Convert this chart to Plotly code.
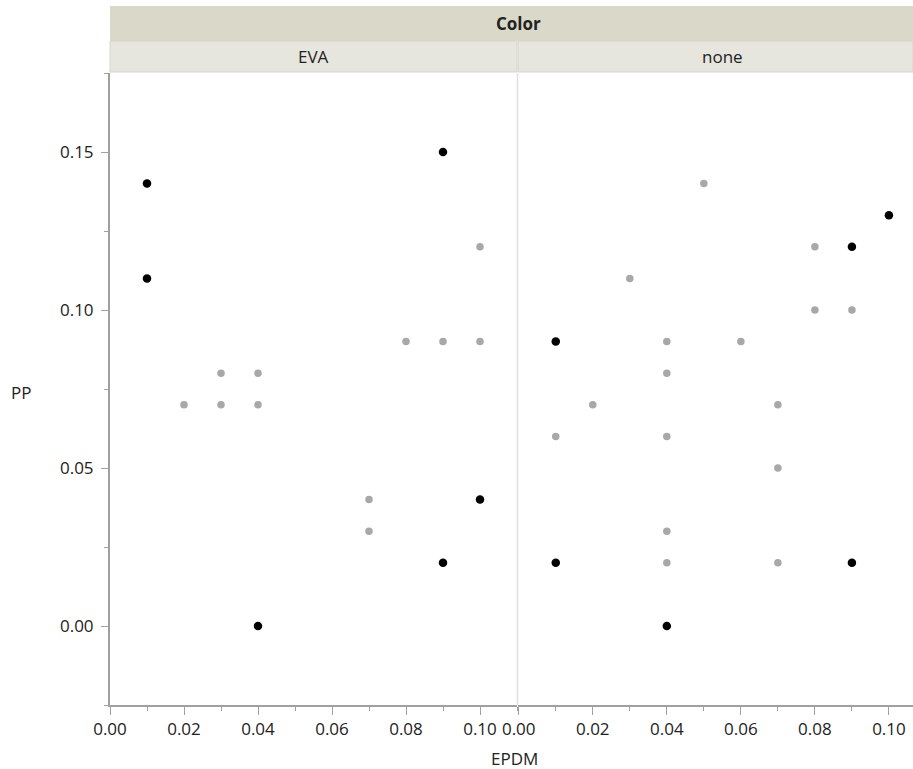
import plotly.graph_objects as go

# ---- data ----
panels = ["EVA", "none"]

eva_black_x = [0.01, 0.01, 0.09, 0.10, 0.09, 0.04]
eva_black_y = [0.14, 0.11, 0.15, 0.04, 0.02, 0.00]
eva_gray_x = [0.10, 0.08, 0.09, 0.10, 0.03, 0.04, 0.02, 0.03, 0.04, 0.07, 0.07]
eva_gray_y = [0.12, 0.09, 0.09, 0.09, 0.08, 0.08, 0.07, 0.07, 0.07, 0.04, 0.03]

none_black_x = [0.10, 0.09, 0.01, 0.01, 0.09, 0.04]
none_black_y = [0.13, 0.12, 0.09, 0.02, 0.02, 0.00]
none_gray_x = [0.05, 0.08, 0.03, 0.08, 0.09, 0.04, 0.06, 0.04, 0.02, 0.07, 0.01, 0.04, 0.07, 0.04, 0.04, 0.07]
none_gray_y = [0.14, 0.12, 0.11, 0.10, 0.10, 0.09, 0.09, 0.08, 0.07, 0.07, 0.06, 0.06, 0.05, 0.03, 0.02, 0.02]

x_ticks = [0.00, 0.02, 0.04, 0.06, 0.08, 0.10]
y_ticks = [0.00, 0.05, 0.10, 0.15]

# ---- style ----
W, H = 913, 769
L, R, T, B = 110, 0, 73, 64
plot_w = W - L - R
plot_h = H - T - B
FONT = "Open Sans"
TXT = "#222222"
AX = "#a0a0a0"
BLACK = "#000000"
GRAY = "#a8a8a8"
FS = 17

fig = go.Figure()

def add(x, y, color, size, xa):
    fig.add_trace(go.Scatter(x=x, y=y, mode="markers", xaxis=xa, yaxis="y",
                             marker=dict(color=color, size=size, line=dict(width=0)),
                             showlegend=False, hoverinfo="x+y"))

add(eva_gray_x, eva_gray_y, GRAY, 7.5, "x")
add(eva_black_x, eva_black_y, BLACK, 8.5, "x")
add(none_gray_x, none_gray_y, GRAY, 7.5, "x2")
add(none_black_x, none_black_y, BLACK, 8.5, "x2")

split = (517 - L) / plot_w
split2 = (518 - L) / plot_w

xcommon = dict(
    tickmode="array", tickvals=x_ticks, ticktext=[f"{v:.2f}" for v in x_ticks],
    ticks="outside", ticklen=8, tickwidth=1, tickcolor=AX,
    showline=True, linecolor=AX, linewidth=2,
    showgrid=False, zeroline=False,
    tickfont=dict(family=FONT, size=FS, color=TXT),
    minor=dict(dtick=0.01, tick0=0, ticks="outside", ticklen=4, tickcolor=AX, showgrid=False),
)

fig.update_layout(
    width=W, height=H,
    margin=dict(l=L, r=R, t=T, b=B),
    paper_bgcolor="white", plot_bgcolor="white",
    xaxis=dict(domain=[0, split], range=[0, 0.11], anchor="y", **xcommon),
    xaxis2=dict(domain=[split2, 1], range=[-0.0002, 0.1065], anchor="y", **xcommon),
    yaxis=dict(
        range=[-0.025, 0.175], tickmode="array", tickvals=y_ticks,
        ticktext=[f"{v:.2f}" for v in y_ticks],
        ticks="outside", ticklen=7, tickwidth=1, tickcolor=AX,
        showline=True, linecolor=AX, linewidth=2,
        showgrid=False, zeroline=False,
        ticklabelstandoff=4,
        tickfont=dict(family=FONT, size=FS, color=TXT),
        minor=dict(dtick=0.025, tick0=0, ticks="outside", ticklen=4, tickcolor=AX, showgrid=False),
    ),
    showlegend=False,
)

# header bands
y_top = 1 + (T - 6) / plot_h
y_mid = 1 + (T - 41) / plot_h
y_bot = 1 + (T - 72) / plot_h
fig.add_shape(type="rect", xref="paper", yref="paper", x0=0, x1=1, y0=y_mid, y1=y_top,
              fillcolor="#dad8c9", line=dict(width=0), layer="above")
fig.add_shape(type="rect", xref="paper", yref="paper", x0=0, x1=split, y0=y_bot, y1=y_mid,
              fillcolor="#e7e6de", line=dict(color="#d6d5cc", width=1), layer="above")
fig.add_shape(type="rect", xref="paper", yref="paper", x0=split2, x1=1, y0=y_bot, y1=y_mid,
              fillcolor="#e7e6de", line=dict(color="#d6d5cc", width=1), layer="above")
# divider between panels
fig.add_shape(type="line", xref="paper", yref="paper", x0=(split + split2) / 2, x1=(split + split2) / 2,
              y0=0, y1=1, line=dict(color="#e0e0e0", width=1.5), layer="below")

fig.add_annotation(text="<b>Color</b>", xref="paper", yref="paper", x=(518 - L) / plot_w, y=(y_top + y_mid) / 2,
                   showarrow=False, font=dict(family=FONT, size=FS, color=TXT),
                   xanchor="center", yanchor="middle")
fig.add_annotation(text=panels[0], xref="paper", yref="paper", x=split / 2, y=(y_mid + y_bot) / 2,
                   showarrow=False, font=dict(family=FONT, size=FS, color=TXT),
                   xanchor="center", yanchor="middle")
fig.add_annotation(text=panels[1], xref="paper", yref="paper", x=(722 - L) / plot_w, y=(y_mid + y_bot) / 2,
                   showarrow=False, font=dict(family=FONT, size=FS, color=TXT),
                   xanchor="center", yanchor="middle")

# axis titles
fig.add_annotation(text="EPDM", xref="paper", yref="paper", x=(514 - L) / plot_w,
                   y=-(758 - (T + plot_h)) / plot_h, showarrow=False,
                   font=dict(family=FONT, size=FS, color=TXT), xanchor="center", yanchor="middle")
fig.add_annotation(text="PP", xref="paper", yref="paper", x=-(L - 21) / plot_w,
                   y=(T + plot_h - 392) / plot_h, showarrow=False,
                   font=dict(family=FONT, size=FS, color=TXT), xanchor="center", yanchor="middle")

fig.write_html("out.html")
